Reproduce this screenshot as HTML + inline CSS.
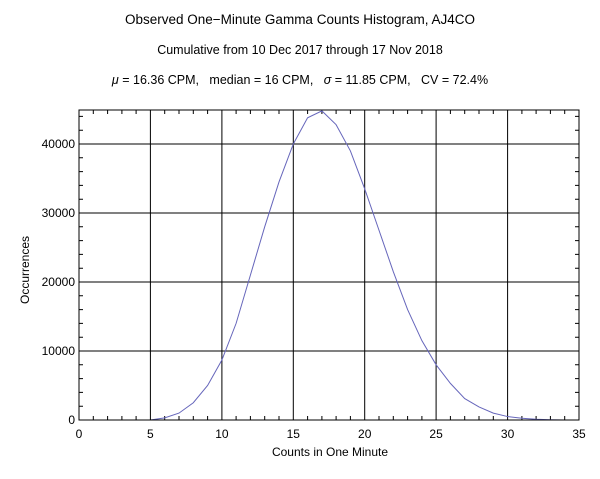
<!DOCTYPE html>
<html><head><style>body{margin:0;background:#fff}svg{display:block}text{font-family:"Liberation Sans",sans-serif;font-size:12px;fill:#000;white-space:pre}</style></head><body>
<svg width="600" height="479" xmlns="http://www.w3.org/2000/svg">
<rect width="600" height="479" fill="#fff"/>
<text x="300" y="24" text-anchor="middle" style="font-size:13.5px">Observed One−Minute Gamma Counts Histogram, AJ4CO</text>
<text x="300" y="54" text-anchor="middle" style="font-size:12.5px">Cumulative from 10 Dec 2017 through 17 Nov 2018</text>
<text x="300" y="84" text-anchor="middle" style="font-size:12.5px"><tspan font-style="italic">μ</tspan> = 16.36 CPM,   median = 16 CPM,   <tspan font-style="italic">σ</tspan> = 11.85 CPM,   CV = 72.4%</text>
<g stroke="#000" stroke-width="1" fill="none">
<path d="M150.4 110V420M221.9 110V420M293.3 110V420M364.7 110V420M436.1 110V420M507.6 110V420M79 351H579M79 282H579M79 213H579M79 144H579"/>
<path d="M93.3 420v-4M107.6 420v-4M121.9 420v-4M136.1 420v-4M164.7 420v-4M179 420v-4M193.3 420v-4M207.6 420v-4M236.1 420v-4M250.4 420v-4M264.7 420v-4M279 420v-4M307.6 420v-4M321.9 420v-4M336.1 420v-4M350.4 420v-4M379 420v-4M393.3 420v-4M407.6 420v-4M421.9 420v-4M450.4 420v-4M464.7 420v-4M479 420v-4M493.3 420v-4M521.9 420v-4M536.1 420v-4M550.4 420v-4M564.7 420v-4"/>
<path d="M93.3 110v4M107.6 110v4M121.9 110v4M136.1 110v4M164.7 110v4M179 110v4M193.3 110v4M207.6 110v4M236.1 110v4M250.4 110v4M264.7 110v4M279 110v4M307.6 110v4M321.9 110v4M336.1 110v4M350.4 110v4M379 110v4M393.3 110v4M407.6 110v4M421.9 110v4M450.4 110v4M464.7 110v4M479 110v4M493.3 110v4M521.9 110v4M536.1 110v4M550.4 110v4M564.7 110v4"/>
<path d="M79 406.2h4M79 392.4h4M79 378.6h4M79 364.8h4M79 337.2h4M79 323.4h4M79 309.6h4M79 295.8h4M79 268.2h4M79 254.4h4M79 240.6h4M79 226.8h4M79 199.2h4M79 185.4h4M79 171.6h4M79 157.8h4M79 130.2h4M79 116.4h4"/>
<path d="M579 406.2h-4M579 392.4h-4M579 378.6h-4M579 364.8h-4M579 337.2h-4M579 323.4h-4M579 309.6h-4M579 295.8h-4M579 268.2h-4M579 254.4h-4M579 240.6h-4M579 226.8h-4M579 199.2h-4M579 185.4h-4M579 171.6h-4M579 157.8h-4M579 130.2h-4M579 116.4h-4"/>
</g>
<polyline fill="none" stroke="#6666bb" stroke-width="1" points="143.3,420 150.4,420 164.7,417.9 179,413.1 193.3,402.75 207.6,385.5 221.9,360 236.1,323.4 250.4,275.1 264.7,226.8 279,181.95 293.3,144 307.6,117.8 321.9,110.9 336.1,124.7 350.4,150.9 364.7,188.85 379,230.25 393.3,271.65 407.6,309.6 421.9,340.65 436.1,364.8 450.4,383.4 464.7,398.6 479,406.9 493.3,413.1 507.6,416.55 521.9,418.3 536.1,419.3 550.4,419.8 564.7,420"/>
<rect x="79" y="110" width="500" height="310" fill="none" stroke="#000"/>
<g text-anchor="end">
<text x="75" y="424">0</text>
<text x="75" y="355">10000</text>
<text x="75" y="286">20000</text>
<text x="75" y="217">30000</text>
<text x="75" y="148">40000</text>
</g>
<g text-anchor="middle">
<text x="79" y="438">0</text>
<text x="150.4" y="438">5</text>
<text x="221.9" y="438">10</text>
<text x="293.3" y="438">15</text>
<text x="364.7" y="438">20</text>
<text x="436.1" y="438">25</text>
<text x="507.6" y="438">30</text>
<text x="579" y="438">35</text>
<text x="330" y="456">Counts in One Minute</text>
<text transform="translate(29,270) rotate(-90)">Occurrences</text>
</g>
</svg>
</body></html>
